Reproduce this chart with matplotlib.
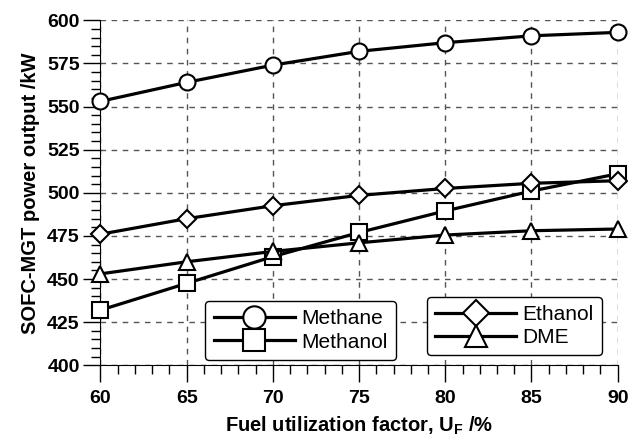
import matplotlib
matplotlib.use("Agg")
import matplotlib.pyplot as plt
from matplotlib.ticker import MultipleLocator

plt.rcParams['font.family'] = ['Liberation Sans', 'DejaVu Sans']
plt.rcParams['mathtext.fontset'] = 'custom'
plt.rcParams['mathtext.bf'] = 'Liberation Sans:bold'
plt.rcParams['mathtext.rm'] = 'Liberation Sans:bold'

# fuel utilization factor (%)
uf = [60, 65, 70, 75, 80, 85, 90]
# SOFC-MGT power output (kW)
methane = [553, 564, 574, 582, 587, 591, 593]
methanol = [432, 447.5, 463, 477, 489.5, 501, 511]
ethanol = [476, 485, 492.5, 498.5, 502.5, 505.5, 507]
dme = [453, 460, 466, 471, 475.5, 478, 479]

fig = plt.figure(figsize=(6.28, 4.38), dpi=100)
ax = fig.add_axes([0.160, 0.166, 0.8236, 0.7877])

lw = 2.3
ms = 11.5
kw = dict(color='black', lw=lw, ms=ms, mfc='white', mec='black', mew=1.5, clip_on=False, zorder=3)
l1, = ax.plot(uf, methane, marker='o', label='Methane', **kw)
l2, = ax.plot(uf, methanol, marker='s', label='Methanol', **kw)
l3, = ax.plot(uf, ethanol, marker='D', label='Ethanol', **dict(kw, ms=9.5))
l4, = ax.plot(uf, dme, marker='^', label='DME', **kw)

ax.set_xlim(60, 90)
ax.set_ylim(400, 600)
ax.xaxis.set_major_locator(MultipleLocator(5))
ax.xaxis.set_minor_locator(MultipleLocator(1))
ax.yaxis.set_major_locator(MultipleLocator(25))
ax.yaxis.set_minor_locator(MultipleLocator(5))
ax.tick_params(which='major', direction='out', length=12, width=1, pad=3, labelsize=14)
ax.tick_params(axis='x', which='major', pad=6)
ax.tick_params(which='minor', direction='out', length=6.5, width=1)
for t in ax.get_xticklabels() + ax.get_yticklabels():
    t.set_fontweight('bold')
ax.spines['top'].set_visible(False)
ax.spines['right'].set_visible(False)
ax.grid(True, which='major', ls=(0, (4, 4)), color='#555555', lw=1)
ax.set_axisbelow(True)

ax.set_xlabel(r'Fuel utilization factor, U$_\mathbf{F}$ /%', fontsize=14.5, fontweight='bold', labelpad=5)
ax.set_ylabel('SOFC-MGT power output /kW', fontsize=14.5, fontweight='bold', labelpad=5)

leg_kw = dict(loc='center', fontsize=15, handlelength=3.9, handletextpad=0.3, borderpad=0.4,
              labelspacing=0.2, markerscale=1.4, fancybox=True, framealpha=1, edgecolor='black')
leg1 = fig.legend(handles=[l1, l2], bbox_to_anchor=(0.4785, 0.2454), **leg_kw)
leg2 = fig.legend(handles=[l3, l4], bbox_to_anchor=(0.8193, 0.2557), **leg_kw)
for lg in (leg1, leg2):
    lg.get_frame().set_linewidth(1.0)

fig.savefig('out.png', dpi=100)
